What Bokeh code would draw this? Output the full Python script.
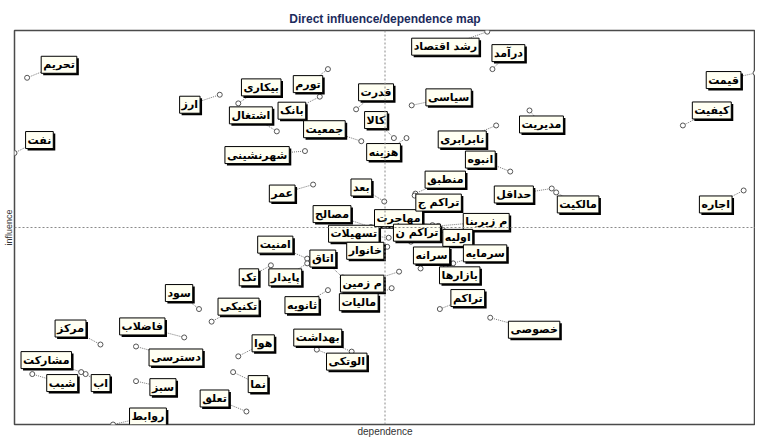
from bokeh.plotting import figure
from bokeh.models import ColumnDataSource, Span, Range1d, FixedTicker, Spacer
from bokeh.layouts import column
from bokeh.core.properties import value
from bokeh.embed import file_html
from bokeh.resources import INLINE

# ---- data: variable names, dependence (x) and influence (y) ----
names = ["تحریم", "نفت", "ارز", "بیکاری", "تورم", "بانک", "اشتغال", "جمعیت", "قدرت", "کالا",
         "هزینه", "سیاسی", "رشد اقتصاد", "درآمد", "قیمت", "کیفیت", "مدیریت", "نابرابری", "شهرنشینی", "عمر",
         "بعد", "مصالح", "تسهیلات", "خانوار", "مهاجرت", "منطبق", "تراکم ج", "م زیربنا", "اولیه", "تراکم ن",
         "سرانه", "سرمایه", "بازارها", "انبوه", "حداقل", "مالکیت", "اجاره", "تراکم", "خصوصی", "امنیت",
         "اتاق", "م زمین", "پایدار", "تک", "تکنیکی", "ثانویه", "مالیات", "سود", "مرکز", "فاضلاب",
         "دسترسی", "مشارکت", "شیب", "اب", "سبز", "هوا", "نما", "تعلق", "روابط", "بهداشت",
         "الوتکی"]
dependence = [1.7, 0.0, 27.7, 30.2, 42.3, 41.2, 35.4, 46.8, 46.1, 51.2,
              52.9, 53.6, 63.8, 64.5, 100.0, 90.2, 69.5, 65.0, 39.2, 40.3,
              49.9, 48.1, 50.5, 50.3, 56.4, 54.1, 54.0, 57.2, 57.8, 53.5,
              54.8, 59.2, 58.2, 66.9, 72.5, 73.1, 98.4, 57.4, 64.2, 39.5,
              44.3, 51.9, 39.5, 34.6, 26.6, 42.3, 50.9, 24.9, 11.6, 22.9,
              16.4, 9.0, 2.4, 9.6, 16.4, 30.2, 29.5, 31.3, 13.3, 45.5,
              40.8]
influence = [88.0, 68.9, 83.7, 81.5, 90.2, 83.2, 74.4, 71.9, 80.0, 72.7,
             72.7, 81.0, 99.7, 90.2, 89.2, 75.9, 79.7, 75.9, 69.4, 60.9,
             56.6, 50.1, 47.4, 45.1, 50.6, 58.6, 58.1, 50.4, 49.4, 46.4,
             39.6, 40.9, 40.4, 64.2, 59.9, 58.9, 59.4, 29.3, 27.1, 42.1,
             37.3, 38.8, 40.9, 40.4, 26.1, 34.1, 34.6, 29.3, 20.3, 22.1,
             19.8, 13.3, 12.8, 12.8, 11.0, 17.3, 13.3, 3.3, 0.0, 18.5,
             19.0]

# ---- layout: label offsets from each point, in screen pixels (dx right, dy up) ----
label_dx = [32, 25, -30, 23, -20, -28, -26, -37, 20, -18,
            -23, 37, -42, 16, -32, 29, 12, -34, -48, -31,
            -23, -39, -35, -22, -34, 30, 24, 48, 15, 6,
            11, 32, 14, -30, -38, 22, -28, 28, 44, -32,
            -20, -37, -22, -22, 27, -26, -33, -20, -30, -42,
            40, -35, 30, 15, 27, 25, 25, -32, 35, -34,
            30]
label_dy = [13, 13, -10, 16, -15, -14, 16, 12, 17, 18,
            -14, 8, -15, 16, -7, 15, -14, -14, -4, -9,
            14, 13, 4, -4, 7, 14, -7, 4, -8, 9,
            13, 10, -10, 12, -6, -12, -14, 11, -12, 14,
            19, -12, -14, -12, 15, -15, -14, 16, 16, 11,
            -11, 12, -9, -9, -6, 13, -12, 13, 8, 14,
            -12]

W = 755
FW, FH = 743, 394          # frame size in pixels (FW approximate, for offset conversion)
sx, sy = FW / 100.0, FH / 100.0
lx = [x + dx / sx for x, dx in zip(dependence, label_dx)]
ly = [y + dy / sy for y, dy in zip(influence, label_dy)]

src = ColumnDataSource(dict(x=dependence, y=influence, lx=lx, ly=ly, name=names))

p = figure(width=W, frame_height=FH, output_backend="svg", toolbar_location=None,
           x_range=Range1d(0, 100), y_range=Range1d(0, 100),
           min_border_left=0, min_border_right=0, min_border_top=0, min_border_bottom=0)
p.background_fill_color = "white"
p.border_fill_color = "white"
p.outline_line_color = "#4a4a4a"
p.outline_line_width = 1.5
p.xgrid.visible = False
p.ygrid.visible = False

p.title.text = "Direct influence/dependence map"
p.title.align = "center"
p.title.text_font = "Liberation Sans"
p.title.text_font_size = "12px"
p.title.text_font_style = "bold"
p.title.text_color = "#1c2b5c"

xax = p.below[0]
yax = p.left[0]
for ax, lab, fs in ((xax, "dependence", "10px"), (yax, "influence", "9px")):
    ax.ticker = FixedTicker(ticks=[])
    ax.axis_line_color = None
    ax.major_tick_line_color = None
    ax.minor_tick_line_color = None
    ax.major_tick_out = 0
    ax.major_tick_in = 0
    ax.major_label_standoff = 0
    ax.major_label_text_font_size = "0px"
    ax.axis_label = lab
    ax.axis_label_text_font = "Liberation Sans"
    ax.axis_label_text_font_size = fs
    ax.axis_label_text_font_style = "normal"
    ax.axis_label_text_color = "#333333"
    ax.axis_label_standoff = 1

p.add_layout(Span(location=50, dimension="height", line_color="#8a8a8a", line_dash="2 2", line_width=1))
p.add_layout(Span(location=50, dimension="width", line_color="#8a8a8a", line_dash="2 2", line_width=1))

# leader lines
p.segment(x0="x", y0="y", x1="lx", y1="ly", source=src, line_color="#777777",
          line_dash="1 1", line_width=1)
# points
p.scatter(x="x", y="y", source=src, size=5, marker="circle", fill_color="white",
          line_color="#555555", line_width=1)

# label shadows and boxed labels
p.text(x="lx", y="ly", text="name", source=src, x_offset=2, y_offset=2,
       text_align="center", text_baseline="middle", text_font=value("DejaVu Sans"),
       text_font_size="11px", text_font_style="bold", text_alpha=0,
       background_fill_color="black", padding=2)
p.text(x="lx", y="ly", text="name", source=src,
       text_align="center", text_baseline="middle", text_font=value("DejaVu Sans"),
       text_font_size="11px", text_font_style="bold", text_color="black",
       background_fill_color="#fffff2", border_line_color="black",
       border_line_width=1, padding=2)

page = column(Spacer(width=W, height=4), p)
open("out.html", "w").write(file_html(page, INLINE))
